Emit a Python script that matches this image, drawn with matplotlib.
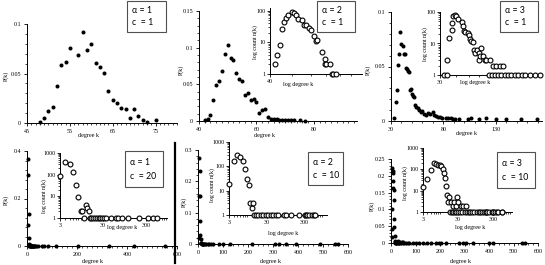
import matplotlib
matplotlib.use('Agg')
import matplotlib.pyplot as plt
import numpy as np
from matplotlib.ticker import (MultipleLocator, FixedLocator, NullFormatter,
                               LogLocator, FuncFormatter)
from matplotlib.patches import Rectangle
from matplotlib.lines import Line2D

plt.rcParams['font.family'] = ['Liberation Serif', 'DejaVu Serif']

# ---------------- data ----------------
# panel 1 (alpha=1, c=1)
k1 = [48, 49, 50, 51, 52, 53, 54, 55, 57, 58, 59, 60, 61, 62, 63, 64, 65, 66, 67,
      68, 69, 70, 71, 72, 73, 75]
p1 = [0.001, 0.0047, 0.0125, 0.0165, 0.037, 0.059, 0.062, 0.076, 0.069, 0.092,
      0.074, 0.080, 0.061, 0.057, 0.051, 0.032, 0.0236, 0.020, 0.0155, 0.0138,
      0.0047, 0.0138, 0.0067, 0.0034, 0.001, 0.003]

# panel 2 (alpha=2, c=1)
k2 = [42, 43, 44, 45, 46, 47, 48, 49, 50, 51, 52, 53, 54, 55, 56, 57, 58, 59, 60,
      61, 62, 63, 64, 65, 66, 67, 68, 69, 70, 71, 72, 73, 75, 77]
p2 = [0.0014, 0.003, 0.0077, 0.029, 0.049, 0.055, 0.068, 0.092, 0.103, 0.0865,
      0.083, 0.066, 0.057, 0.055, 0.036, 0.0376, 0.0285, 0.030, 0.026, 0.011,
      0.0154, 0.0168, 0.005, 0.003, 0.003, 0.003, 0.002, 0.002, 0.002, 0.002,
      0.002, 0.002, 0.0015, 0.0005]
k2_in = [42, 43, 44, 45, 46, 47, 48, 50, 51, 52, 53, 55, 56, 57, 59, 60, 62, 63,
         64, 67, 69, 69, 70, 73, 74, 75, 77]
n2_in = [2, 4, 8, 26, 45, 58, 71, 89, 82, 70, 55, 51, 34, 36, 29, 25, 16, 11, 12,
         5, 3, 2, 2, 2, 1, 1, 1]

# panel 3 (alpha=3, c=1)
k3 = [33, 35, 36, 37, 38, 39, 40, 41, 42, 43, 44, 45, 46, 47, 48, 49, 50, 51, 52,
      53, 54, 56, 57, 59, 60, 61, 63, 65, 67, 70, 71, 73, 75, 77, 79, 82, 84, 87,
      89, 91, 95, 103, 106, 114, 121, 130, 140, 154, 169]
p3 = [0.0025, 0.017, 0.0285, 0.051, 0.0617, 0.082, 0.0705, 0.069, 0.0617, 0.0617,
      0.0485, 0.048, 0.046, 0.0448, 0.028, 0.029, 0.025, 0.023, 0.022, 0.0147,
      0.013, 0.0117, 0.010, 0.0086, 0.0095, 0.006, 0.0055, 0.007, 0.0064, 0.008,
      0.0055, 0.0046, 0.0034, 0.004, 0.003, 0.0025, 0.0025, 0.0025, 0.002, 0.002,
      0.002, 0.002, 0.0025, 0.002, 0.0025, 0.002, 0.0015, 0.0015, 0.0015]
k3_in = [32, 34, 34, 35, 37, 37, 38, 39, 40, 41, 44, 45, 46, 47, 49, 50, 51, 52,
         54, 55, 56, 58, 60, 60, 61, 62, 64, 66, 68, 73, 76, 81, 86, 91, 71, 75,
         79, 83, 89, 94, 100, 106, 113, 120, 127, 134, 147, 160, 175]
n3_in = [1, 1, 3, 15, 27, 45, 73, 78, 73, 60, 47, 35, 25, 24, 21, 19, 14, 12,
         11, 6, 5, 6, 5, 3, 4, 7, 4, 3, 3, 3, 2, 2, 2, 2, 1, 1,
         1, 1, 1, 1, 1, 1, 1, 1, 1, 1, 1, 1, 1]

# panel 4 (alpha=1, c=20)
k4 = [3, 4, 5, 6, 7, 8, 9, 10, 11, 12, 13, 14, 15, 16, 18, 20, 22, 24, 26, 28, 31,
      35, 45, 60, 68, 82, 116, 204, 328, 428, 552]
p4 = [0.088, 0.366, 0.30, 0.135, 0.032, 0.009, 0.002, 0.002, 0.001, 0.004, 0.003,
      0.002, 0.001, 0.001, 0.001, 0.001, 0.001, 0.001, 0.001, 0.001, 0.001, 0.001,
      0.001, 0.001, 0.001, 0.001, 0.001, 0.001, 0.001, 0.001, 0.001]
n4 = [88, 365, 300, 135, 32, 9, 2, 2, 1, 4, 3, 2, 1, 1, 1, 1, 1, 1, 1, 1, 1, 1,
      1, 1, 1, 1, 1, 1, 1, 1, 1]

# panel 5 (alpha=2, c=10)
k5 = [3, 4, 5, 6, 7, 8, 9, 10, 11, 12, 13, 14, 16, 18, 21, 24, 29, 33, 39, 45, 53,
      60, 84, 98, 129, 214, 309, 325, 350, 390, 486, 547, 560]
p5 = [0.018, 0.154, 0.274, 0.232, 0.152, 0.073, 0.028, 0.016, 0.003, 0.002, 0.003,
      0.001, 0.001, 0.001, 0.001, 0.001, 0.001, 0.001, 0.001, 0.001, 0.001, 0.001,
      0.001, 0.001, 0.001, 0.001, 0.001, 0.001, 0.001, 0.001, 0.001, 0.001, 0.001]
n5 = [19, 165, 290, 245, 160, 78, 30, 17, 3, 2, 3, 1, 1, 1, 1, 1, 1, 1, 1, 1, 1,
      1, 1, 1, 1, 1, 1, 1, 1, 1, 1, 1, 1]

# panel 6 (alpha=3, c=10)
k6 = [3, 4, 5, 6, 7, 8, 9, 10, 11, 12, 13, 14, 15, 16, 17, 19, 22, 23, 26, 29, 30,
      37, 43, 50, 18, 20, 21, 24, 27, 31, 34, 40, 48, 55, 61, 68, 75, 88, 102,
      116, 129, 146, 163, 184, 195, 204, 224, 279, 292, 306, 336, 401, 415, 535,
      548]
p6 = [0.017, 0.041, 0.10, 0.224, 0.215, 0.208, 0.185, 0.165, 0.158, 0.127, 0.072,
      0.048, 0.02, 0.004, 0.006, 0.004, 0.003, 0.004, 0.003, 0.006, 0.004, 0.003,
      0.003, 0.003, 0.001, 0.001, 0.001, 0.001, 0.001, 0.001, 0.001, 0.001,
      0.001, 0.001, 0.001, 0.001, 0.001, 0.001, 0.001, 0.001, 0.001, 0.001,
      0.001, 0.001, 0.001, 0.001, 0.001, 0.001, 0.001, 0.001, 0.001, 0.001,
      0.001, 0.001, 0.001]
n6 = [15, 36, 90, 197, 184, 166, 160, 140, 107, 69, 41, 17, 6, 3, 5, 3, 2, 3, 2,
      5, 3, 2, 2, 2, 1, 1, 1, 1, 1, 1, 1, 1, 1, 1, 1, 1, 1, 1, 1, 1, 1, 1, 1, 1,
      1, 1, 1, 1, 1, 1, 1, 1, 1, 1, 1]

alphas = ['1', '2', '3', '1', '2', '3']
cs = ['1', '1', '1', '20', '10', '10']

# ---------------- figure ----------------
W, H = 545, 265
fig = plt.figure(figsize=(W / 100, H / 100), dpi=100)
fig.patch.set_facecolor('white')

TICK_FS = 4.3
LAB_FS = 4.3


def box(x0, y0, x1, y1):
    return [x0 / W, 1 - y1 / H, (x1 - x0) / W, (y1 - y0) / H]


def ftext(x, y, s, **kw):
    fig.text(x / W, 1 - y / H, s, **kw)


fmt = FuncFormatter(lambda v, p: '%g' % v)


def setup_main(ax, xlim, ylim, xmaj, ymaj, xmin, ymin):
    ax.set_xlim(*xlim)
    ax.set_ylim(*ylim)
    ax.set_facecolor('none')
    for s in ['top', 'right']:
        ax.spines[s].set_visible(False)
    for s in ['left', 'bottom']:
        ax.spines[s].set_linewidth(0.7)
    ax.xaxis.set_major_locator(FixedLocator(xmaj))
    ax.yaxis.set_major_locator(FixedLocator(ymaj))
    ax.xaxis.set_minor_locator(MultipleLocator(xmin))
    ax.yaxis.set_minor_locator(MultipleLocator(ymin))
    ax.xaxis.set_major_formatter(fmt)
    ax.yaxis.set_major_formatter(fmt)
    ax.tick_params(which='major', direction='out', length=2.2, width=0.6,
                   labelsize=TICK_FS, pad=2)
    ax.tick_params(which='minor', direction='out', length=1.3, width=0.5)


def setup_inset(ax, xlim, ylim, xt, yt):
    ax.set_xscale('log')
    ax.set_yscale('log')
    ax.set_xlim(*xlim)
    ax.set_ylim(*ylim)
    ax.set_facecolor('none')
    for s in ['top', 'right']:
        ax.spines[s].set_visible(False)
    for s in ['left', 'bottom']:
        ax.spines[s].set_linewidth(0.7)
    ax.xaxis.set_major_locator(FixedLocator(xt))
    ax.yaxis.set_major_locator(FixedLocator(yt))
    ax.xaxis.set_major_formatter(fmt)
    ax.yaxis.set_major_formatter(fmt)
    ax.xaxis.set_minor_locator(LogLocator(base=10, subs=np.arange(2, 10)))
    ax.yaxis.set_minor_locator(LogLocator(base=10, subs=np.arange(2, 10)))
    ax.xaxis.set_minor_formatter(NullFormatter())
    ax.yaxis.set_minor_formatter(NullFormatter())
    ax.tick_params(which='major', direction='out', length=2.0, width=0.6,
                   labelsize=TICK_FS, pad=1.5)
    ax.tick_params(which='minor', direction='out', length=1.2, width=0.5)


def dots(ax, k, p):
    ax.plot(k, p, 'o', color='black', ms=2.9, mew=0, clip_on=False, zorder=3)


def circles(ax, k, n):
    ax.plot(k, n, 'o', mfc='white', mec='black', ms=3.5, mew=0.8,
            clip_on=False, zorder=3)


def legend_box(x0, y0, x1, y1, a, c):
    r = Rectangle((x0 / W, 1 - y1 / H), (x1 - x0) / W, (y1 - y0) / H,
                  transform=fig.transFigure, facecolor='white',
                  edgecolor='#505050', linewidth=0.8, zorder=5)
    fig.add_artist(r)
    h = y1 - y0
    fam = ['Lato', 'DejaVu Sans']
    ftext(x0 + 5, y0 + 0.32 * h, '\u03b1 = ' + a, fontsize=6.3, va='center',
          ha='left', family=fam, zorder=6)
    ftext(x0 + 5, y0 + 0.70 * h, 'c  = ' + c, fontsize=6.3, va='center',
          ha='left', family=fam, zorder=6)


# ---- panel 1
ax1 = fig.add_axes(box(27, 24, 177, 123))
setup_main(ax1, (45, 80), (0, 0.1), [45, 55, 65, 75], [0, 0.05, 0.1], 1, 0.01)
dots(ax1, k1, p1)

# ---- panel 2
ax2 = fig.add_axes(box(199, 11, 357, 121))
setup_main(ax2, (40, 95), (0, 0.15), [40, 60, 80], [0, 0.05, 0.1, 0.15], 2, 0.01)
dots(ax2, k2, p2)
in2 = fig.add_axes(box(270, 8, 362, 74))
setup_inset(in2, (40, 100), (1, 120), [40], [1, 10, 100])
circles(in2, k2_in, n2_in)

# ---- panel 3
ax3 = fig.add_axes(box(391, 12, 542, 121))
setup_main(ax3, (30, 174), (0, 0.1), [30, 80, 130], [0, 0.05, 0.1], 10, 0.01)
dots(ax3, k3, p3)
in3 = fig.add_axes(box(440, 12, 540, 75))
setup_inset(in3, (30, 176), (1, 100), [30], [1, 10, 100])
circles(in3, k3_in, n3_in)

# ---- panel 4
ax4 = fig.add_axes(box(27, 151, 177, 246))
setup_main(ax4, (0, 600), (0, 0.4), [0, 200, 400, 600], [0, 0.2, 0.4], 20, 0.04)
dots(ax4, k4, p4)
in4 = fig.add_axes(box(60, 153, 167, 218))
setup_inset(in4, (3, 927), (1, 1000), [3, 30, 300], [1, 10, 100, 1000])
circles(in4, k4, n4)

# ---- panel 5
ax5 = fig.add_axes(box(198, 150, 348, 244))
setup_main(ax5, (0, 600), (0, 0.3), [0, 100, 200, 300, 400, 500, 600],
           [0, 0.1, 0.2, 0.3], 20, 0.02)
dots(ax5, k5, p5)
in5 = fig.add_axes(box(229, 142, 327, 215))
setup_inset(in5, (3, 1200), (1, 1000), [3, 30, 300], [1, 10, 100, 1000])
circles(in5, k5, n5)

# ---- panel 6
ax6 = fig.add_axes(box(391, 159, 538, 243))
setup_main(ax6, (0, 600), (0, 0.25), [0, 100, 200, 300, 400, 500, 600],
           [0, 0.05, 0.1, 0.15, 0.2, 0.25], 20, 0.01)
dots(ax6, k6, p6)
in6 = fig.add_axes(box(423, 148, 512, 212))
setup_inset(in6, (3, 1050), (1, 1000), [3, 30, 300], [1, 10, 100, 1000])
circles(in6, k6, n6)

# ---- axis titles
for (x, y) in [(6, 76), (181, 70), (368, 70), (6, 200), (184, 202), (372, 206)]:
    ftext(x, y, 'P(k)', fontsize=LAB_FS, rotation=90, ha='center', va='center')
for (x, y) in [(88, 136), (265, 136), (466, 134), (92, 261), (270, 261),
               (460, 262)]:
    ftext(x, y, 'degree k', fontsize=LAB_FS, ha='center', va='center')
for (x, y) in [(255, 42), (425, 44), (44, 196), (212, 185), (405, 183)]:
    ftext(x, y, 'log count n(k)', fontsize=LAB_FS, rotation=90, ha='center',
          va='center')
for (x, y) in [(298, 85), (475, 83), (122, 227), (283, 233), (470, 227)]:
    ftext(x, y, 'log degree k', fontsize=LAB_FS, ha='center', va='center')

# ---- legend boxes
legend_box(127, 1, 166, 32, alphas[0], cs[0])
legend_box(317, 1, 355, 32, alphas[1], cs[1])
legend_box(500, 1, 538, 32, alphas[2], cs[2])
legend_box(125, 151, 163, 187, alphas[3], cs[3])
legend_box(308, 152, 343, 185, alphas[4], cs[4])
legend_box(497, 152, 535, 188, alphas[5], cs[5])

# ---- divider line
fig.add_artist(Line2D([175 / W, 175 / W], [1 - 143 / H, 1 - 263 / H],
                      transform=fig.transFigure, color='black', linewidth=1.6))

fig.savefig('out.png', dpi=100)
